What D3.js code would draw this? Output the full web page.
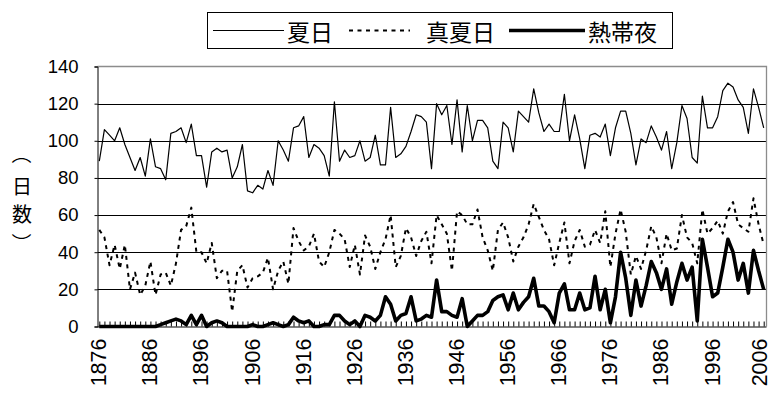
<!DOCTYPE html>
<html>
<head>
<meta charset="utf-8">
<script src="https://cdn.jsdelivr.net/npm/d3@7"></script>
<style>
  html, body { margin: 0; padding: 0; background: #fff; }
  svg { display: block; }
</style>
</head>
<body>
<svg id="chart" width="771" height="396"></svg>
<script>
// Years on the category axis
const years = d3.range(1876, 2007);

// 夏日 (days with max temperature >= 25°C)
const summerDays = [
  89,106,103,100,107,98,91,84,91,81,
  101,86,85,79,104,105,107,99,109,92,
  92,75,94,96,94,95,80,86,98,73,
  72,76,74,84,76,100,95,89,107,108,
  113,91,98,96,92,81,121,89,95,91,
  92,100,89,91,103,87,87,118,91,93,
  97,105,114,113,110,85,120,114,119,98,
  122,94,119,100,111,111,107,89,85,110,
  107,94,116,113,110,128,115,105,109,105,
  105,125,100,114,101,85,103,104,102,109,
  92,107,116,116,104,87,101,99,108,102,
  95,105,85,99,119,112,91,88,124,107,
  107,113,127,131,129,122,118,104,128,118,
  107
];

// 真夏日 (days with max temperature >= 30°C)
const midsummerDays = [
  52,48,33,44,31,44,20,29,17,22,
  35,17,28,29,22,34,52,54,64,40,
  40,34,45,26,30,30,8,30,33,21,
  26,27,29,37,20,30,35,23,53,46,
  41,43,50,35,32,40,52,50,47,32,
  44,28,49,43,31,40,47,60,32,38,
  53,48,38,46,51,34,60,55,50,30,
  62,60,55,55,63,48,41,30,52,56,
  48,35,43,48,55,66,59,52,47,33,
  45,56,34,46,52,43,44,52,45,62,
  32,50,63,51,28,38,31,41,54,48,
  34,50,41,42,60,48,45,34,63,50,
  53,57,50,62,67,55,53,51,69,55,
  44
];

// 熱帯夜 (nights with min temperature >= 25°C)
const tropicalNights = [
  0,0,0,0,0,0,0,0,0,0,
  0,0,1,2,3,4,3,1,6,1,
  6,0,2,3,2,0,0,0,0,0,
  1,0,0,1,2,1,0,1,5,3,
  2,3,0,0,1,1,6,6,3,1,
  3,0,6,5,3,6,16,12,3,6,
  7,16,3,4,6,5,25,8,8,6,
  5,15,0,3,6,6,8,14,16,17,
  9,18,9,13,16,26,11,11,8,2,
  18,23,9,9,18,9,10,27,9,20,
  2,16,40,26,6,25,11,22,35,29,
  20,31,12,24,34,25,32,3,47,32,
  16,18,32,47,40,25,34,18,41,30,
  20
];

const yTicks = [0, 20, 40, 60, 80, 100, 120, 140];
const xLabelYears = [1876,1886,1896,1906,1916,1926,1936,1946,1956,1966,1976,1986,1996,2006];
const seriesNames = ["夏日", "真夏日", "熱帯夜"];
const yTitle = ["（", "日", "数", "）"];

const svg = d3.select("#chart");
const numFont = "'Liberation Sans', Arial, sans-serif";
const cjkFont = "'Noto Sans CJK JP', 'Noto Sans', sans-serif";

// Plot frame
const plotLeft = 97.5, plotRight = 766.5, plotTop = 66.5, plotBottom = 326.5;

const x = d3.scaleLinear().domain([1876, 2006]).range([99.3, 763.7]);
const y = d3.scaleLinear().domain([0, 140]).range([plotBottom, plotTop]);

// Horizontal gridlines
svg.append("g")
  .selectAll("line")
  .data(yTicks.filter(v => v > 0 && v < 140))
  .join("line")
  .attr("x1", plotLeft).attr("x2", plotRight)
  .attr("y1", d => Math.round(y(d)) + 0.5)
  .attr("y2", d => Math.round(y(d)) + 0.5)
  .attr("stroke", "#000").attr("stroke-width", 1);

// Grey plot-area border (top and right)
svg.append("path")
  .attr("d", `M${plotLeft},${plotTop}H${plotRight}V${plotBottom}`)
  .attr("fill", "none").attr("stroke", "#8c8c8c").attr("stroke-width", 1.3);

// Y axis
const yAxis = svg.append("g")
  .attr("transform", `translate(${plotLeft},0)`)
  .call(d3.axisLeft(y).tickValues(yTicks).tickSize(3).tickPadding(16).tickFormat(d3.format("d")));
yAxis.select(".domain").attr("stroke", "#000");
yAxis.selectAll("text")
  .attr("font-family", numFont).attr("font-size", 18.5).attr("fill", "#000");

// X axis: a small inner tick for every year
const xTicks = svg.append("g")
  .attr("transform", `translate(0,${plotBottom})`)
  .call(d3.axisBottom(x).tickValues(years).tickSize(-5).tickFormat(""));
xTicks.select(".domain").remove();
xTicks.selectAll("line").attr("stroke", "#000");

// X axis labels every ten years, rotated; the last one is nudged to stay inside the canvas
const xAxis = svg.append("g")
  .attr("transform", `translate(0,${plotBottom})`)
  .call(d3.axisBottom(x).tickValues(xLabelYears).tickSize(0).tickFormat(d3.format("d")));
xAxis.select(".domain")
  .attr("d", `M${plotLeft},0.5H${plotRight}`).attr("stroke", "#000");
xAxis.selectAll("text")
  .attr("transform", "rotate(-90)")
  .attr("text-anchor", "end")
  .attr("x", -12).attr("y", 0)
  .attr("dy", d => d === xLabelYears[xLabelYears.length - 1] ? "0.12em" : "0.3em")
  .attr("font-family", numFont).attr("font-size", 21.5).attr("fill", "#000");

// Series
const toPoints = vals => vals.map((v, i) => ({ year: years[i], value: v }));
const line = d3.line().x(d => x(d.year)).y(d => y(d.value));

const styles = [
  { width: 1.2, dash: null },
  { width: 2, dash: "4,4.5" },
  { width: 3.6, dash: null }
];
const seriesData = [summerDays, midsummerDays, tropicalNights];

seriesData.forEach((vals, i) => {
  svg.append("path")
    .datum(toPoints(vals))
    .attr("d", line)
    .attr("fill", "none")
    .attr("stroke", "#000")
    .attr("stroke-width", styles[i].width)
    .attr("stroke-dasharray", styles[i].dash)
    .attr("stroke-linejoin", "round");
});

// Y axis title, written vertically (brackets turned to vertical form)
const titleY = [154, 185, 213, 243];
svg.append("g")
  .selectAll("text")
  .data(yTitle)
  .join("text")
  .attr("text-anchor", "middle")
  .attr("dominant-baseline", "central")
  .attr("transform", (d, i) => {
    const isBracket = d === "（" || d === "）";
    return `translate(22,${titleY[i]})` + (isBracket ? " rotate(90)" : "");
  })
  .attr("font-family", cjkFont).attr("font-size", 20).attr("fill", "#000")
  .text(d => d);

// Legend
const legend = svg.append("g");
legend.append("rect")
  .attr("x", 207.5).attr("y", 12.5).attr("width", 465).attr("height", 36)
  .attr("fill", "#fff").attr("stroke", "#000").attr("stroke-width", 1);

const legendItems = [
  { x1: 213, x2: 284, tx: 287 },
  { x1: 349, x2: 410, tx: 426 },
  { x1: 509, x2: 585, tx: 588 }
];
legendItems.forEach((it, i) => {
  legend.append("line")
    .attr("x1", it.x1).attr("x2", it.x2).attr("y1", 30.5).attr("y2", 30.5)
    .attr("stroke", "#000")
    .attr("stroke-width", styles[i].width)
    .attr("stroke-dasharray", styles[i].dash);
  legend.append("text")
    .attr("x", it.tx).attr("y", 31)
    .attr("dominant-baseline", "central")
    .attr("font-family", cjkFont).attr("font-size", 23).attr("fill", "#000")
    .text(seriesNames[i]);
});
</script>
</body>
</html>
